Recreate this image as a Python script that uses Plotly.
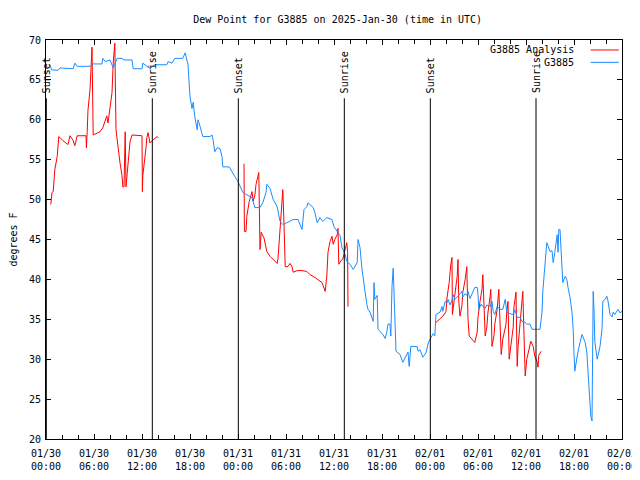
import plotly.graph_objects as go

# ---- data (hours since 2025-01-30 00:00 UTC) ----
obs_hours = [0.5, 0.7, 1.5, 1.75, 3.4, 3.6, 3.9, 5.5, 5.75, 7.0, 7.1, 7.4, 8.0, 8.25, 8.4, 8.9, 9.5, 9.75,
             10.75, 10.9, 12.0, 12.1, 12.5, 13.0, 13.6, 15.1, 15.25, 15.75, 16.1, 17.1, 17.4, 17.6, 17.75,
             18.0, 18.25, 18.4, 18.6, 18.9, 19.0, 19.25, 19.6, 20.5, 20.75, 20.9, 21.1, 21.4, 21.75, 22.0,
             22.1, 22.9, 23.25, 23.6, 24.0, 24.6, 25.1, 25.75, 26.1, 26.75, 27.1, 27.5, 27.6, 28.0, 28.4,
             28.9, 29.25, 29.6, 30.1, 30.9, 31.5, 32.0, 32.25, 32.6, 32.75, 33.1, 33.4, 33.6, 33.9, 34.25,
             34.6, 35.1, 35.75, 36.0, 36.4, 36.75, 37.0, 37.4, 37.6, 38.0, 38.4, 38.9, 39.0, 39.25, 39.5,
             39.6, 39.9, 40.1, 40.25, 40.5, 40.9, 41.0, 41.1, 41.4, 41.5, 42.1, 42.4, 42.6, 42.75, 43.0,
             43.1, 43.25, 43.4, 43.5, 43.75, 44.0, 44.25, 44.6, 45.1, 45.25, 45.4, 45.6, 46.4, 46.5, 46.75,
             47.1, 47.5, 47.75, 48.0, 48.4, 48.6, 48.75, 49.25, 49.5, 49.6, 49.9, 50.1, 50.25, 50.5, 50.75,
             50.9, 51.1, 51.5, 52.0, 52.1, 52.4, 52.6, 52.75, 53.0, 53.25, 53.6, 53.9, 54.0, 54.1, 54.4,
             54.6, 54.9, 55.1, 55.5, 55.75, 55.9, 56.1, 56.4, 56.75, 57.1, 57.4, 57.6, 58.0, 58.4, 58.6,
             58.9, 59.25, 59.5, 59.9, 60.1, 60.5, 60.75, 61.75, 62.0, 62.1, 62.25, 62.5, 62.6, 62.75, 63.0,
             63.25, 63.4, 63.6, 63.9, 64.0, 64.1, 64.25, 64.4, 64.6, 64.9, 65.1, 65.25, 65.5, 65.75, 65.9,
             66.0, 66.1, 66.4, 66.5, 66.75, 67.0, 67.1, 67.4, 67.6, 67.75, 67.9, 68.1, 68.25, 68.4, 68.5,
             68.6, 68.9, 69.1, 69.25, 69.5, 69.6, 69.9, 70.1, 70.25, 70.5, 70.75, 70.9, 71.1, 71.5, 71.75, 72.0]
obs_dewpt = [66.9, 66.25, 66.2, 66.5, 66.4, 67.1, 66.7, 66.7, 67.0, 67.0, 67.7, 67.3, 67.5, 66.9, 66.5, 67.7, 67.7, 67.5,
             67.5, 66.4, 66.4, 67.1, 66.8, 66.4, 66.9, 66.9, 67.3, 67.1, 67.7, 67.7, 68.4, 67.6, 66.9,
             62.9, 61.4, 62.2, 60.4, 58.75, 60.0, 59.2, 57.9, 57.9, 58.1, 57.4, 56.0, 56.5, 56.4, 55.4,
             54.1, 54.1, 53.4, 52.9, 52.25, 50.9, 50.6, 50.25, 49.0, 49.0, 49.6, 50.9, 51.9, 51.4, 50.0,
             49.1, 47.25, 46.9, 47.1, 47.5, 47.5, 46.25, 48.75, 49.1, 49.6, 49.2, 49.0, 48.4, 47.1, 47.75,
             47.25, 47.75, 47.5, 46.6, 46.0, 45.5, 44.0, 43.1, 42.25, 41.9, 41.25, 42.1, 45.0, 44.0, 41.25,
             40.4, 38.4, 36.9, 36.25, 35.9, 34.75, 39.6, 37.5, 38.0, 33.75, 33.1, 32.6, 33.4, 34.4, 34.4,
             32.9, 39.1, 41.4, 39.0, 31.0, 30.8, 30.6, 29.6, 30.6, 30.9, 29.1, 31.6, 31.6, 31.0, 31.2,
             30.25, 30.8, 31.9, 32.5, 33.2, 32.9, 35.6, 35.9, 36.6, 36.0, 37.25, 37.0, 37.5, 36.8, 37.4,
             38.1, 37.5, 37.9, 38.5, 37.8, 38.2, 38.0, 38.5, 37.6, 38.2, 39.0, 39.0, 38.1, 36.25, 36.9,
             36.6, 36.4, 36.8, 36.6, 37.25, 36.0, 35.6, 36.6, 36.25, 36.25, 37.5, 35.9, 35.7, 35.6, 36.2,
             35.25, 35.25, 34.75, 34.6, 34.4, 34.4, 33.75, 33.75, 35.9, 38.5, 40.4, 43.1, 44.6, 44.2, 43.5,
             43.6, 42.1, 43.4, 45.6, 43.4, 46.25, 46.25, 43.6, 39.6, 40.4, 40.0, 39.0, 37.75, 35.9, 33.75,
             30.6, 28.5, 30.4, 31.0, 32.1, 33.1, 32.8, 32.1, 30.9, 28.75, 25.9, 22.9, 22.25, 38.5, 36.25,
             32.25, 30.0, 31.0, 31.6, 33.75, 37.25, 37.5, 37.9, 37.3, 35.6, 35.3, 35.9, 35.6, 36.25, 35.8, 36.0]

ana_hours = [0.6, 0.75, 0.9, 1.1, 1.4, 1.5, 1.6, 2.1, 2.75, 3.0, 3.4, 3.6, 3.9, 5.0, 5.05, 5.15, 5.25, 5.5,
             5.6, 5.75, 5.9, 6.75, 7.1, 7.6, 7.75, 8.0, 8.25, 8.4, 8.6, 8.75, 9.0, 9.25, 9.5, 9.6, 9.75,
             9.9, 10.0, 10.25, 10.5, 10.75, 12.0, 12.05, 12.1, 12.5, 12.6, 12.75, 13.0, 13.4, 13.9, 14.0,
             None,
             24.75, 24.8, 25.0, 25.1, 25.4, 25.6, 25.75, 25.9, 26.1, 26.25, 26.5, 26.6, 26.75, 26.9, 27.25,
             27.6, 28.0, 28.5, 28.9, 29.0, 29.1, 29.25, 29.5, 29.6, 29.75, 29.9, 30.25, 30.5, 30.75, 30.9,
             31.4, 32.0, 32.6, 33.0, 33.6, 34.0, 34.5, 34.9, 35.1, 35.25, 35.5, 35.75, 35.9, 36.1, 36.4,
             36.5, 36.6, 36.9, 37.1, 37.25, 37.4, 37.6, 37.7, 37.75,
             None,
             48.75, 49.25, 49.6, 49.9, 50.0, 50.1, 50.4, 50.6, 50.75, 50.8, 50.9, 51.1, 51.4, 51.5, 51.6,
             51.75, 52.0, 52.1, 52.4, 52.6, 52.75, 52.9, 53.25, 53.6, 53.9, 54.0, 54.25, 54.5, 54.6, 54.75,
             54.9, 55.1, 55.25, 55.5, 55.6, 55.75, 56.0, 56.1, 56.4, 56.6, 56.75, 56.9, 57.1, 57.5, 57.6,
             57.75, 57.9, 58.1, 58.4, 58.5, 58.75, 58.9, 59.0, 59.25, 59.5, 59.6, 59.75, 59.9, 60.1, 60.4,
             60.6, 60.9, 61.1, 61.4, 61.5, 61.6, 61.9]
ana_dewpt = [49.4, 50.9, 51.0, 53.75, 55.4, 57.1, 57.9, 57.4, 56.9, 58.0, 57.4, 56.75, 58.0, 58.0, 56.5, 58.5, 61.25, 63.75,
             67.0, 69.1, 58.1, 58.5, 59.0, 60.5, 59.6, 61.5, 63.4, 67.1, 69.6, 58.75, 56.25, 54.6, 53.0, 51.6, 51.6,
             58.5, 51.6, 55.0, 57.25, 58.1, 58.0, 51.0, 53.0, 56.5, 57.75, 58.4, 57.1, 57.5, 57.9, 57.75,
             None,
             54.5, 46.0, 46.0, 47.9, 49.75, 50.6, 51.0, 49.8, 50.5, 51.9, 52.9, 53.4, 43.75, 45.9, 45.2,
             43.5, 42.9, 42.4, 42.0, 42.6, 44.1, 46.6, 50.0, 51.25, 47.0, 41.6, 41.6, 42.0, 41.6, 40.9,
             41.1, 41.1, 41.0, 40.6, 40.25, 40.0, 39.6, 38.5, 40.4, 43.4, 44.75, 45.4, 44.4, 45.0, 45.6,
             46.4, 41.9, 42.4, 42.5, 43.2, 44.0, 44.6, 43.4, 36.6,
             None,
             34.6, 35.0, 35.4, 35.8, 36.0, 37.5, 39.6, 41.9, 42.75, 35.6, 36.4, 38.4, 40.4, 42.5, 37.25,
             35.4, 36.8, 38.4, 40.0, 41.6, 35.0, 32.9, 32.5, 32.1, 33.4, 35.25, 37.25, 38.75, 40.6, 36.5,
             32.9, 34.0, 35.9, 37.75, 38.75, 31.6, 33.0, 34.4, 36.25, 38.75, 34.0, 30.6, 32.5, 34.4, 36.0,
             37.25, 30.0, 31.8, 34.0, 36.6, 38.4, 29.1, 31.5, 34.4, 36.9, 38.5, 33.0, 27.9, 30.0, 31.6,
             32.25, 31.6, 30.4, 29.6, 29.0, 30.5, 31.0]

event_hours = [0.04, 13.29, 24.04, 37.29, 48.04, 61.25]
event_labels = ["Sunset", "Sunrise", "Sunset", "Sunrise", "Sunset", "Sunrise"]

tick_hours = [0, 6, 12, 18, 24, 30, 36, 42, 48, 54, 60, 66, 72]
tick_labels = ["01/30<br>00:00", "01/30<br>06:00", "01/30<br>12:00", "01/30<br>18:00",
               "01/31<br>00:00", "01/31<br>06:00", "01/31<br>12:00", "01/31<br>18:00",
               "02/01<br>00:00", "02/01<br>06:00", "02/01<br>12:00", "02/01<br>18:00",
               "02/02<br>00:00"]

series_names = ["G3885 Analysis", "G3885"]
series_colors = ["#ff0000", "#1a8cff"]

FONT = "DejaVu Sans Mono"

fig = go.Figure()
fig.add_trace(go.Scatter(x=ana_hours, y=ana_dewpt, mode="lines", name=series_names[0],
                         line=dict(color=series_colors[0], width=1), connectgaps=False, showlegend=False))
fig.add_trace(go.Scatter(x=obs_hours, y=obs_dewpt, mode="lines", name=series_names[1],
                         line=dict(color=series_colors[1], width=1), showlegend=False))

# sunrise / sunset markers
for h, lab in zip(event_hours, event_labels):
    fig.add_shape(type="line", xref="x", yref="y", x0=h, x1=h, y0=20, y1=62.7,
                  line=dict(color="black", width=1))
    fig.add_annotation(x=h, y=63.1, xref="x", yref="y", text=lab, textangle=-90,
                       showarrow=False, xanchor="center", yanchor="bottom",
                       font=dict(family=FONT, size=10, color="black"))

# legend (gnuplot style: text then line sample)
legend_rows = [0.975, 0.944]
for name, col, yy in zip(series_names, series_colors, legend_rows):
    fig.add_annotation(x=0.921, y=yy, xref="paper", yref="paper", text=name, showarrow=False,
                       xanchor="right", yanchor="middle", font=dict(family=FONT, size=10, color="black"))
    fig.add_shape(type="line", xref="paper", yref="paper", x0=0.9455, x1=0.9945, y0=yy, y1=yy,
                  line=dict(color=col, width=1))

# the page places the figure 8px from the top-left corner
fig.update_layout(
    width=632, height=472,
    margin=dict(l=38, r=18, t=32, b=41, autoexpand=False),
    paper_bgcolor="white", plot_bgcolor="white",
    font=dict(family=FONT, size=10, color="black"),
    title=dict(text="Dew Point for G3885 on 2025-Jan-30 (time in UTC)", x=0.5216, xanchor="center",
               y=0.975, yanchor="middle", automargin=False,
               font=dict(family=FONT, size=10, color="black")),
    showlegend=False,
)
fig.update_xaxes(range=[0, 72], tickmode="array", tickvals=tick_hours, ticktext=tick_labels,
                 ticks="inside", ticklen=5, tickcolor="black", showline=True, linecolor="black",
                 linewidth=1, mirror="ticks", showgrid=False, zeroline=False, automargin=False,
                 minor=dict(tickmode="linear", tick0=0, dtick=2, ticks="inside", ticklen=4,
                            tickcolor="black", showgrid=False),
                 tickfont=dict(family=FONT, size=10, color="black"), ticklabelstandoff=5)
fig.update_yaxes(range=[20, 70], tickmode="linear", tick0=20, dtick=5,
                 ticks="inside", ticklen=5, tickcolor="black", showline=True, linecolor="black",
                 linewidth=1, mirror="ticks", showgrid=False, zeroline=False, automargin=False,
                 title=dict(text="degrees F", font=dict(family=FONT, size=10, color="black"), standoff=10),
                 tickfont=dict(family=FONT, size=10, color="black"), ticklabelstandoff=2)

fig.write_html("out.html")
